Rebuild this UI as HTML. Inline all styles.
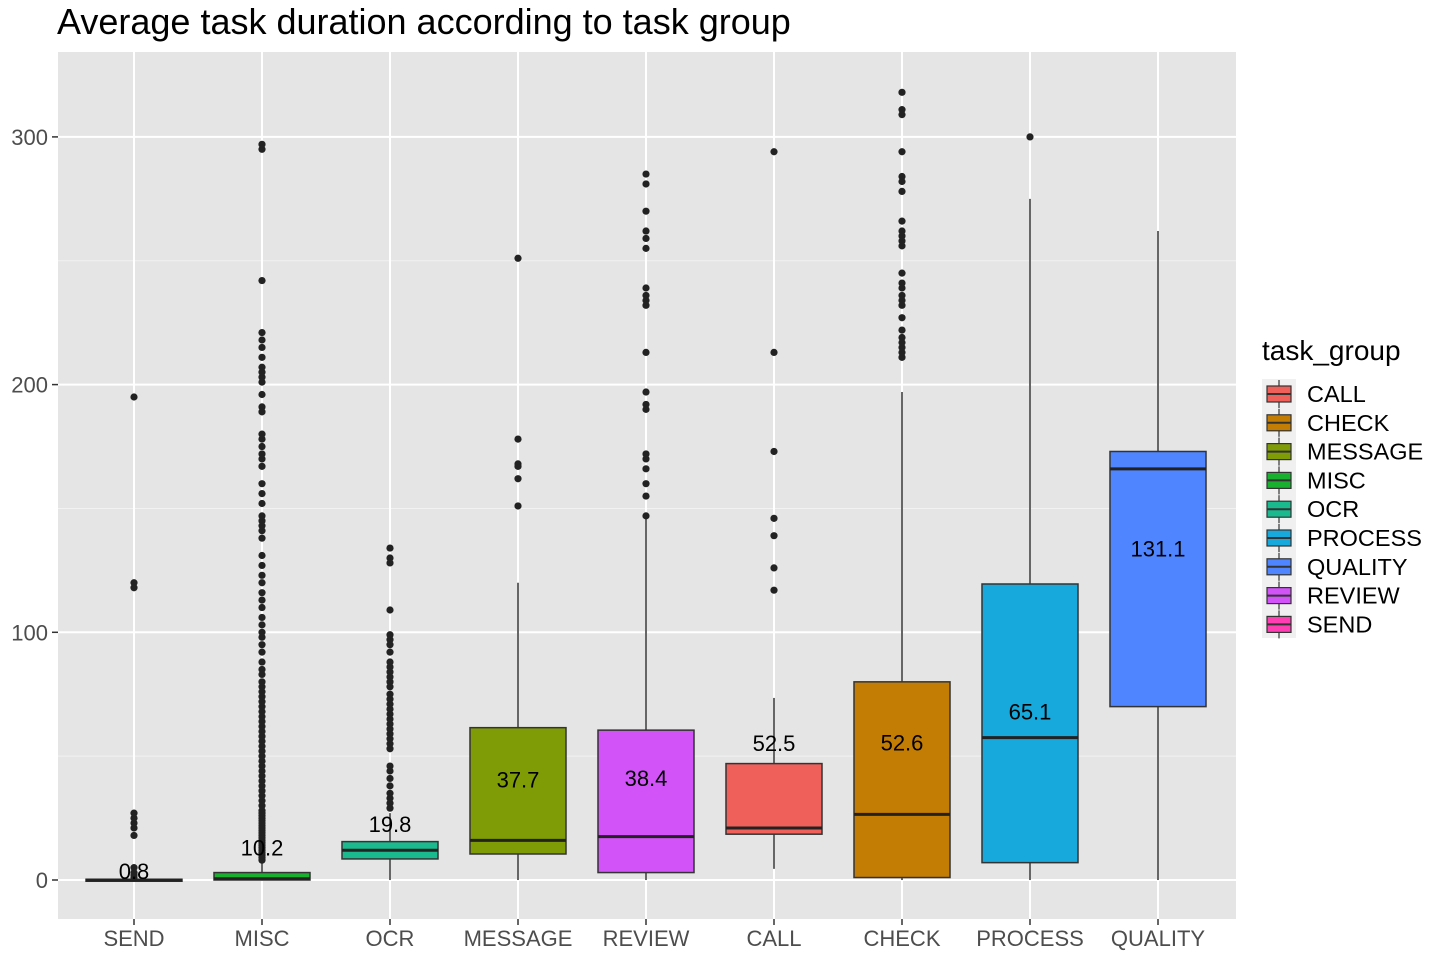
<!DOCTYPE html>
<html><head><meta charset="utf-8"><style>
body{margin:0;background:#fff;font-family:"Liberation Sans",Arial,sans-serif;}
svg text{font-family:"Liberation Sans",Arial,sans-serif;}
</style></head><body>
<svg id="chart" width="1440" height="960" xmlns="http://www.w3.org/2000/svg">
<text x="57" y="34" font-size="36" fill="#000">Average task duration according to task group</text>
<rect x="58" y="52" width="1178" height="867" fill="#e5e5e5"/>
<g id="grid"></g><g id="marks"></g><g id="axes"></g>
<g id="legend">
<text x="1262" y="360" font-size="28" fill="#000">task_group</text>
</g>
</svg>
<script>
const categories=["SEND","MISC","OCR","MESSAGE","REVIEW","CALL","CHECK","PROCESS","QUALITY"];
const colors=["#FF3EB4","#19B02F","#1ABA8E","#7F9B05","#D253F7","#F0605A","#C47D04","#17A9DB","#4F86FF"];
const q1=[0,0,8.5,10.5,3,18.5,1,7,70];
const med=[0,0.5,12,16,17.5,21,26.5,57.5,166];
const q3=[0.3,3,15.5,61.5,60.5,47,80,119.5,173];
const wlo=[0,0,0,0,0,4.5,0,0,0];
const whi=[0.5,7,27,120,147,73.5,197,275,262];
const means=[0.8,10.2,19.8,37.7,38.4,52.5,52.6,65.1,131.1];
const outliers=[
[1,2,3,5,18,21,23,25,27,118,120,195],
[8,9,10,11,12,13,14,15,16,17,18,19,20,21,22,23,24,25,26,27,28,30,32,34,36,38,40,42,44,46,48,50,52,54,56,58,60,62,64,66,68,70,72,74,76,78,80,83,85,88,92,95,98,100,103,106,110,113,116,120,123,127,131,138,141,143,145,147,152,156,160,167,170,172,175,178,180,189,191,196,201,203,205,207,211,215,218,221,242,295,297],
[29,31,33,35,38,41,44,46,53,55,57,59,61,63,65,67,69,71,73,75,78,80,82,84,86,88,92,95,97,99,109,128,130,134],
[151,162,167,168,178,251],
[147,155,160,166,170,172,190,192,197,213,232,234,236,239,255,259,262,270,281,285],
[117,126,139,146,173,213,294],
[211,213,215,217,219,222,227,232,234,236,239,241,245,256,258,260,262,266,278,282,284,294,309,311,318],
[300],
[]];
const yTicks=[0,100,200,300];
const legendOrder=["CALL","CHECK","MESSAGE","MISC","OCR","PROCESS","QUALITY","REVIEW","SEND"];
const NS="http://www.w3.org/2000/svg";
const y=v=>880-2.477*v;
const x=i=>134+128*i;
const BW=96;
function mk(p,tag,at){const e=document.createElementNS(NS,tag);for(const k in at)e.setAttribute(k,at[k]);p.appendChild(e);return e;}
const grid=document.getElementById('grid'),marks=document.getElementById('marks'),axes=document.getElementById('axes');
for(let t=0;t<yTicks.length;t++){
 const v=yTicks[t];
 if(t>0){const mv=(yTicks[t]+yTicks[t-1])/2;const m=mk(grid,'line',{x1:58,x2:1236,y1:y(mv),y2:y(mv),stroke:'#f2f2f2','stroke-width':1});
 
 }
 const g=mk(grid,'line',{x1:58,x2:1236,y1:y(v),y2:y(v),stroke:'#fff','stroke-width':2});
 
 
 const tk=mk(axes,'line',{x1:52,x2:58,y1:y(v),y2:y(v),stroke:'#333','stroke-width':1.5});
 
 
 const tl=mk(axes,'text',{x:48,y:y(v)+8,'text-anchor':'end','font-size':22,fill:'#4d4d4d'});
 tl.textContent=v;
 
 
}
categories.forEach((c,i)=>{
 const g=mk(grid,'line',{x1:x(i),x2:x(i),y1:52,y2:919,stroke:'#fff','stroke-width':2});
 
 
 const tk=mk(axes,'line',{x1:x(i),x2:x(i),y1:919,y2:925,stroke:'#333','stroke-width':1.5});
 
 
 const tl=mk(axes,'text',{x:x(i),y:946,'text-anchor':'middle','font-size':22,fill:'#4d4d4d'});
 tl.textContent=c;
 
 
 const b=mk(marks,'g',{});
 
 
 mk(b,'line',{x1:x(i),x2:x(i),y1:y(q3[i]),y2:y(whi[i]),stroke:'#333','stroke-width':1.5});
 mk(b,'line',{x1:x(i),x2:x(i),y1:y(q1[i]),y2:y(wlo[i]),stroke:'#333','stroke-width':1.5});
 mk(b,'rect',{x:x(i)-BW/2,y:y(q3[i]),width:BW,height:Math.max(2,y(q1[i])-y(q3[i])),fill:colors[i],stroke:'#333','stroke-width':1.5});
 mk(b,'line',{x1:x(i)-BW/2,x2:x(i)+BW/2,y1:y(med[i]),y2:y(med[i]),stroke:'#222','stroke-width':3});
 outliers[i].forEach(v=>{const p=mk(b,'circle',{cx:x(i),cy:y(v),r:3.6,fill:'#222'});
  
  });
 const ml=mk(marks,'text',{x:x(i),y:y(means[i])+1,'text-anchor':'middle','font-size':22,fill:'#000'});
 ml.textContent=means[i].toFixed(1);
 
 
});
const lg=document.getElementById('legend');
mk(lg,'rect',{x:1262,y:379,width:34,height:259,fill:'#f0f0f0'});
legendOrder.forEach((c,k)=>{
 const i=categories.indexOf(c);const cy=394+28.8*k;
 const e=mk(lg,'g',{});
 
 
 mk(e,'line',{x1:1279,x2:1279,y1:cy-14,y2:cy+14,stroke:'#333','stroke-width':1.2});
 mk(e,'rect',{x:1267,y:cy-8,width:24,height:16,fill:colors[i],stroke:'#333','stroke-width':1.2});
 mk(e,'line',{x1:1267,x2:1291,y1:cy,y2:cy,stroke:'#333','stroke-width':2});
 const t=mk(e,'text',{x:1307,y:cy+8,'font-size':23.5,fill:'#000'});t.textContent=c;
});
</script>
</body></html>
